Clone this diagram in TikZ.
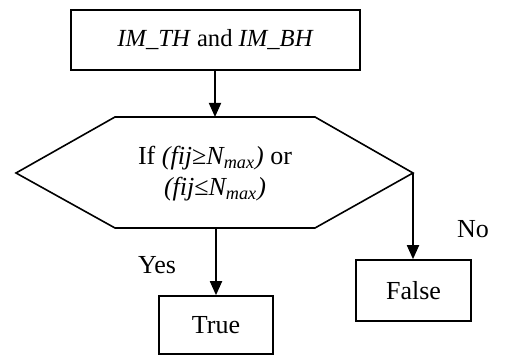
\documentclass[tikz,border=0pt]{standalone}
\usepackage{fontspec}
\setmainfont{Liberation Serif}
\usetikzlibrary{arrows.meta}
\tikzset{
  box/.style={draw, line width=0.8pt, inner sep=0pt, font=\fontsize{13}{16}\selectfont},
  lbl/.style={inner sep=0pt, font=\fontsize{13}{16}\selectfont},
  flow/.style={line width=0.9pt, -{Triangle[length=7pt,width=6pt]}},
  plain/.style={line width=0.9pt}
}
\begin{document}
\begin{tikzpicture}[x=0.5pt,y=-0.5pt]
\useasboundingbox (0,0) rectangle (510,356);
% top box
\node[box, minimum width=144.5pt, minimum height=30pt, font=\fontsize{12.3}{15}\selectfont] (top) at (215.5,40) {\textit{IM\_TH} and \textit{IM\_BH}};
% hexagon
\coordinate (h1) at (115,117);
\coordinate (h2) at (315,117);
\coordinate (hr) at (413,173);
\coordinate (h4) at (315,228);
\coordinate (h5) at (115,228);
\coordinate (hl) at (16,173);
\coordinate (htop) at (215,117);
\coordinate (hbot) at (216,228);
\draw[line width=0.8pt] (h1) -- (h2) -- (hr) -- (h4) -- (h5) -- (hl) -- cycle;
\node[lbl, align=center, font=\fontsize{13}{15.5}\selectfont] (cond) at (215,174) {If \textit{(fij}≥\textit{N\textsubscript{max})} or\\\textit{(fij}≤\textit{N\textsubscript{max})}};
% outcome boxes
\node[box, minimum width=57pt, minimum height=29pt] (true) at (216,325) {True};
\node[box, minimum width=57.5pt, minimum height=30.5pt] (false) at (413.5,290.5) {False};
% labels
\node[lbl] (yes) at (157,265) {Yes};
\node[lbl] (no) at (473,229) {No};
% connectors
\draw[flow] (top.south -| htop) -- (htop);
\draw[flow] (hbot) -- (true.north -| hbot);
\draw[flow] (hr) -- (false.north -| hr);
\end{tikzpicture}
\end{document}
